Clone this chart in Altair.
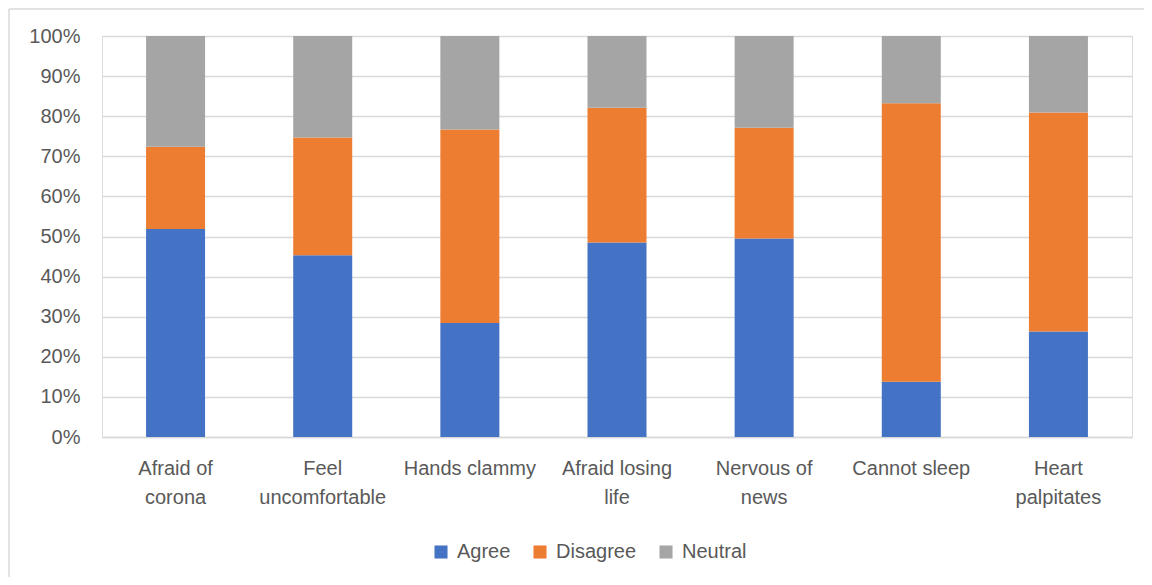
import altair as alt
import pandas as pd

categories = ["Afraid of corona", "Feel uncomfortable", "Hands clammy", "Afraid losing life",
              "Nervous of news", "Cannot sleep", "Heart palpitates"]
x_labels = ["Afraid of|corona", "Feel|uncomfortable", "Hands clammy", "Afraid losing|life",
            "Nervous of|news", "Cannot sleep", "Heart|palpitates"]
series = ["Agree", "Disagree", "Neutral"]
agree = [51.9, 45.3, 28.4, 48.5, 49.5, 13.8, 26.3]
disagree = [20.5, 29.4, 48.3, 33.6, 27.6, 69.4, 54.6]
neutral = [27.6, 25.3, 23.3, 17.9, 22.9, 16.8, 19.1]
colors = ["#4472C4", "#ED7D31", "#A5A5A5"]
y_ticks = [0, 0.1, 0.2, 0.3, 0.4, 0.5, 0.6, 0.7, 0.8, 0.9, 1.0]

rows = []
for i, lab in enumerate(x_labels):
    for j, (s, vals) in enumerate(zip(series, [agree, disagree, neutral])):
        rows.append({"category": lab, "series": s, "ord": j, "value": vals[i] / 100})
df = pd.DataFrame(rows)

bars = alt.Chart(df).mark_bar(size=59).encode(
    x=alt.X("category:N", sort=x_labels, title=None,
            axis=alt.Axis(labelExpr="split(datum.value, '|')", labelAngle=0, labelFontSize=20,
                          labelColor="#595959", labelLineHeight=29, labelPadding=21,
                          ticks=False, domainColor="#D9D9D9", domainWidth=1.5,
                          labelFont="Liberation Sans", labelLimit=0)),
    y=alt.Y("value:Q", stack="zero", title=None,
            scale=alt.Scale(domain=[0, 1], nice=False),
            axis=alt.Axis(values=y_ticks, format=".0%", labelFontSize=20, labelColor="#595959",
                          labelFont="Liberation Sans", labelPadding=22, domain=False,
                          ticks=False, gridColor="#D9D9D9", gridWidth=1.5)),
    color=alt.Color("series:N", sort=series, title=None,
                    scale=alt.Scale(domain=series, range=colors),
                    legend=alt.Legend(orient="none", legendX=329, legendY=506,
                                      direction="horizontal", symbolType="square",
                                      symbolSize=170, symbolStrokeWidth=0,
                                      labelFontSize=20, labelColor="#595959",
                                      labelFont="Liberation Sans", labelOffset=6,
                                      columnPadding=19)),
    order=alt.Order("ord:Q", sort="ascending"),
)

border_data = alt.Data(values=[{"k": 1}])
top_border = alt.Chart(border_data).mark_rule(color="#D9D9D9", strokeWidth=1.5, clip=False).encode(
    x=alt.value(-93), x2=alt.value(1060), y=alt.value(-27))
left_border = alt.Chart(border_data).mark_rule(color="#D9D9D9", strokeWidth=1.5, clip=False).encode(
    x=alt.value(-93), y=alt.value(-27), y2=alt.value(545))

chart = alt.layer(bars, top_border, left_border).properties(
    width=1030, height=401,
    autosize=alt.AutoSizeParams(type="none"),
    padding={"left": 94, "top": 28, "right": 12, "bottom": 140},
).configure_view(stroke=None).configure(font="Liberation Sans")

chart.save("out.html", embed_options={"renderer": "svg", "actions": False})
